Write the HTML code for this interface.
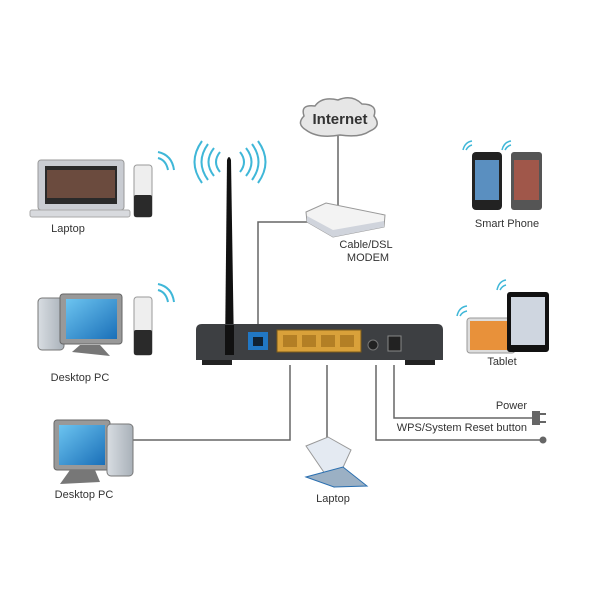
<!DOCTYPE html>
<html><head><style>
html,body{margin:0;padding:0;background:#fff;}
svg{display:block}
text{font-family:"Liberation Sans",sans-serif;fill:#333;}
</style></head><body>
<svg width="600" height="600" viewBox="0 0 600 600" xmlns="http://www.w3.org/2000/svg">
<defs>
<linearGradient id="scr" x1="0" y1="0" x2="1" y2="1"><stop offset="0" stop-color="#6cc4f0"/><stop offset="1" stop-color="#1a6fb8"/></linearGradient>
<linearGradient id="case" x1="0" y1="0" x2="1" y2="0"><stop offset="0" stop-color="#d8dde2"/><stop offset="1" stop-color="#a9b1b9"/></linearGradient>
</defs>
<!-- connectors -->
<g stroke="#666" stroke-width="1.5" fill="none">
<line x1="338" y1="136" x2="338" y2="207"/>
<polyline points="258,335 258,222 308,222"/>
<polyline points="290,365 290,440 132,440"/>
<line x1="327" y1="365" x2="327" y2="440"/>
<polyline points="376,365 376,440 540,440"/>
<polyline points="394,365 394,418 533,418"/>
</g>
<circle cx="543" cy="440" r="3.5" fill="#666"/>
<rect x="532" y="411" width="8" height="14" fill="#666"/><line x1="540" y1="414" x2="546" y2="414" stroke="#666" stroke-width="2"/><line x1="540" y1="422" x2="546" y2="422" stroke="#666" stroke-width="2"/>
<!-- cloud -->
<path d="M306,130 Q296,124 304,116 Q300,104 315,106 Q322,96 338,100 Q352,94 362,104 Q378,104 374,116 Q382,126 370,131 Q360,138 340,135 Q318,139 306,130Z" fill="#e6e6e6" stroke="#888" stroke-width="1.5"/>
<text x="340" y="124" font-size="15" font-weight="bold" text-anchor="middle" fill="#222">Internet</text>
<!-- modem -->
<path d="M306,212 L326,203 L385,215 L384,227 L333,237 L307,222Z" fill="#f3f3f3" stroke="#999"/>
<path d="M307,222 L333,237 L384,227 L384,221 L333,230 L307,216Z" fill="#d0d4dc"/>
<text x="366" y="248" font-size="11" text-anchor="middle">Cable/DSL</text>
<text x="368" y="261" font-size="11" text-anchor="middle">MODEM</text>
<!-- antenna & waves -->
<path d="M225,352 L227,160 Q229,154 231,160 L234,352Z" fill="#111"/>
<g fill="none" stroke="#3fb7d8" stroke-width="2">
<path d="M220,152 Q212,162 220,172"/><path d="M214,148 Q203,162 214,176"/><path d="M208,144 Q195,162 208,180"/><path d="M202,141 Q187,162 202,183"/>
<path d="M240,152 Q248,162 240,172"/><path d="M246,148 Q257,162 246,176"/><path d="M252,144 Q265,162 252,180"/><path d="M258,141 Q273,162 258,183"/>
</g>
<!-- router -->
<path d="M196,330 Q196,324 202,324 L437,324 Q443,324 443,330 L443,360 L196,360Z" fill="#3d3f42"/>
<rect x="202" y="360" width="30" height="5" fill="#222"/><rect x="405" y="360" width="30" height="5" fill="#222"/>
<rect x="225" y="325" width="9" height="30" fill="#111"/>
<rect x="248" y="332" width="20" height="18" fill="#2177c4"/><rect x="253" y="337" width="10" height="9" fill="#123"/>
<rect x="277" y="330" width="84" height="22" fill="#d9a13a" stroke="#7a5a1a"/>
<g fill="#b37f25"><rect x="283" y="335" width="14" height="12"/><rect x="302" y="335" width="14" height="12"/><rect x="321" y="335" width="14" height="12"/><rect x="340" y="335" width="14" height="12"/></g>
<circle cx="373" cy="345" r="5" fill="#222" stroke="#777"/>
<rect x="388" y="336" width="13" height="15" fill="#222" stroke="#888"/>
<!-- laptop top-left -->
<rect x="38" y="160" width="86" height="50" rx="3" fill="#c9ccd2" stroke="#999"/>
<rect x="45" y="166" width="72" height="38" fill="#2a2a2a"/><rect x="47" y="170" width="68" height="28" fill="#6b4b3e"/>
<rect x="30" y="210" width="100" height="7" rx="2" fill="#d8dade" stroke="#aaa"/>
<text x="68" y="232" font-size="11" text-anchor="middle">Laptop</text>
<!-- dongle 1 -->
<rect x="134" y="165" width="18" height="52" rx="3" fill="#eee" stroke="#999"/><rect x="134" y="195" width="18" height="22" rx="2" fill="#2a2a2a"/>
<g fill="none" stroke="#3fb7d8" stroke-width="2"><path d="M158,158 Q166,160 168,170"/><path d="M158,152 Q172,155 174,170"/></g>
<!-- desktop PC 1 -->
<rect x="38" y="298" width="26" height="52" rx="4" fill="url(#case)" stroke="#777"/>
<rect x="60" y="294" width="62" height="50" rx="3" fill="#999" stroke="#666"/><rect x="66" y="299" width="51" height="40" fill="url(#scr)"/>
<path d="M80,345 L100,345 L110,356 L72,352Z" fill="#777"/>
<text x="80" y="381" font-size="11" text-anchor="middle">Desktop PC</text>
<rect x="134" y="297" width="18" height="58" rx="3" fill="#eee" stroke="#999"/><rect x="134" y="330" width="18" height="25" rx="2" fill="#2a2a2a"/>
<g fill="none" stroke="#3fb7d8" stroke-width="2"><path d="M158,290 Q166,292 168,302"/><path d="M158,284 Q172,287 174,302"/></g>
<!-- desktop PC 2 -->
<rect x="54" y="420" width="56" height="50" rx="3" fill="#999" stroke="#666"/><rect x="59" y="425" width="46" height="40" fill="url(#scr)"/>
<rect x="107" y="424" width="26" height="52" rx="4" fill="url(#case)" stroke="#777"/>
<path d="M70,470 L95,470 L100,482 L60,484Z" fill="#777"/>
<text x="84" y="498" font-size="11" text-anchor="middle">Desktop PC</text>
<!-- laptop bottom -->
<path d="M306,446 L328,437 L351,450 L334,487Z" fill="#e4eaf2" stroke="#999"/>
<path d="M306,477 L334,487 L367,486 L343,467Z" fill="#9bb0c4" stroke="#2a6fb0"/>
<text x="333" y="502" font-size="11" text-anchor="middle">Laptop</text>
<!-- phones -->
<rect x="472" y="152" width="30" height="58" rx="4" fill="#222"/><rect x="475" y="160" width="24" height="40" fill="#5a8fc0"/>
<rect x="511" y="152" width="31" height="58" rx="3" fill="#555"/><rect x="514" y="160" width="25" height="40" fill="#a0574a"/>
<g fill="none" stroke="#3fb7d8" stroke-width="1.5"><path d="M466,150 Q468,146 472,145"/><path d="M463,150 Q465,142 472,141"/><path d="M505,150 Q507,146 511,145"/><path d="M502,150 Q504,142 511,141"/></g>
<text x="507" y="227" font-size="11" text-anchor="middle">Smart Phone</text>
<!-- tablet -->
<rect x="467" y="318" width="48" height="35" rx="3" fill="#ddd" stroke="#999"/><rect x="470" y="321" width="42" height="29" fill="#e8913a"/>
<rect x="507" y="292" width="42" height="60" rx="3" fill="#111"/><rect x="511" y="297" width="34" height="48" fill="#cfd6e0"/>
<g fill="none" stroke="#3fb7d8" stroke-width="1.5"><path d="M460,316 Q462,312 467,311"/><path d="M457,316 Q459,307 467,306"/><path d="M500,290 Q502,286 506,285"/><path d="M497,290 Q499,281 506,280"/></g>
<text x="502" y="365" font-size="11" text-anchor="middle">Tablet</text>
<text x="527" y="409" font-size="11" text-anchor="end">Power</text>
<text x="527" y="431" font-size="11" text-anchor="end">WPS/System Reset button</text>
</svg>
</body></html>
